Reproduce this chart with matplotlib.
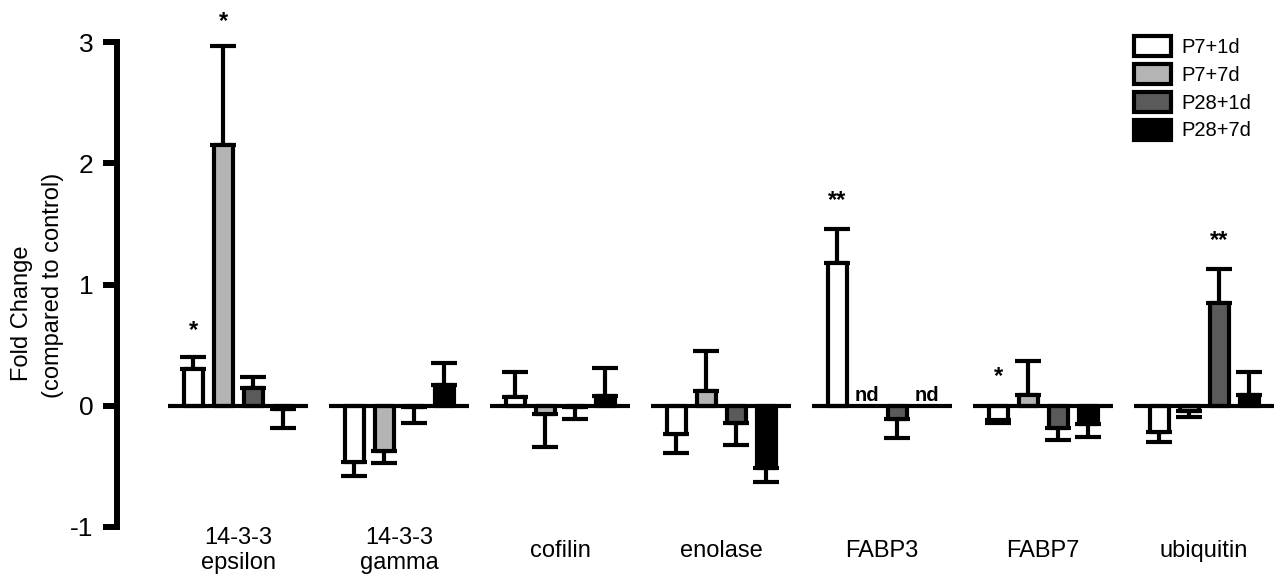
import numpy as np
import matplotlib
matplotlib.use("Agg")
from matplotlib import pyplot as plt
from matplotlib.patches import Patch

plt.rcParams['font.family'] = ['Liberation Sans', 'DejaVu Sans']
plt.rcParams['axes.unicode_minus'] = False

# Data
genes = ['14-3-3\nepsilon', '14-3-3\ngamma', 'cofilin', 'enolase',
         'FABP3', 'FABP7', 'ubiquitin']
conditions = ['P7+1d', 'P7+7d', 'P28+1d', 'P28+7d']
colors = ['white', '#b4b4b4', '#5a5a5a', 'black']

nan = np.nan
p7_1d = [0.30, -0.46, 0.07, -0.23, 1.18, -0.12, -0.22]
p7_1d_sem = [0.10, 0.12, 0.21, 0.16, 0.28, 0.02, 0.08]
p7_7d = [2.15, -0.37, -0.07, 0.12, nan, 0.085, -0.04]
p7_7d_sem = [0.82, 0.10, 0.27, 0.33, nan, 0.285, 0.05]
p28_1d = [0.15, -0.01, -0.01, -0.14, -0.11, -0.185, 0.85]
p28_1d_sem = [0.09, 0.13, 0.10, 0.18, 0.155, 0.095, 0.28]
p28_7d = [-0.03, 0.17, 0.08, -0.515, nan, -0.15, 0.09]
p28_7d_sem = [0.15, 0.18, 0.23, 0.11, nan, 0.11, 0.19]

means = [p7_1d, p7_7d, p28_1d, p28_7d]
sems = [p7_1d_sem, p7_7d_sem, p28_1d_sem, p28_7d_sem]

# (gene index, condition index, marker, y position)
stars = [(0, 0, '*', 0.62), (0, 1, '*', 3.17), (4, 0, '**', 1.69),
         (5, 0, '*', 0.24), (6, 2, '**', 1.36)]
not_detected = [(4, 1), (4, 3)]

pitch = 0.1863
width = 0.118
lw = 3.0

fig = plt.figure(figsize=(12.82, 5.82), dpi=100)
ax = fig.add_axes([117 / 1282, 55 / 582, 1165 / 1282, 485 / 582])

x = np.arange(len(genes))
for k, (m, s) in enumerate(zip(means, sems)):
    m = np.array(m, dtype=float)
    s = np.array(s, dtype=float)
    xpos = x + (k - 1.5) * pitch
    lower = np.where(m < 0, s, 0)
    upper = np.where(m >= 0, s, 0)
    ax.errorbar(xpos, m, yerr=[lower, upper], fmt='none', ecolor='black',
                elinewidth=lw, capsize=9.4, capthick=lw, zorder=2)
    ax.bar(xpos, m, width=width, color=colors[k], edgecolor='black',
           linewidth=lw, zorder=3, joinstyle='round')

# zero line under each group
ax.hlines(np.zeros(len(genes)), x - 0.435, x + 0.435, color='black',
          linewidth=lw, zorder=4)

for g, c, txt, y in stars:
    ax.text(g + (c - 1.5) * pitch, y, txt, ha='center', va='center',
            fontsize=17, fontweight='bold', clip_on=False)
for g, c in not_detected:
    ax.text(g + (c - 1.5) * pitch, 0.04, 'nd', ha='center', va='baseline',
            fontsize=14.5, fontweight='bold')

ax.set_xlim(-0.7516, 6.484)
ax.set_ylim(-1, 3)
ax.set_yticks([-1, 0, 1, 2, 3])
ax.set_xticks(x)
ax.set_xticklabels(genes, fontsize=17, linespacing=1.15)
for lbl in ax.get_xticklabels():
    lbl.set_va('center')
ax.tick_params(axis='x', length=0, pad=17)
ax.tick_params(axis='y', direction='out', length=10, width=4.3, pad=7,
               labelsize=19)
for side in ['top', 'right', 'bottom']:
    ax.spines[side].set_visible(False)
ax.spines['left'].set_linewidth(4.3)
ax.spines['left'].set_bounds(-1, 3)

fig.text(22 / 1282, 1 - 313 / 582, 'Fold Change', rotation=90,
         ha='center', va='center', fontsize=17)
fig.text(53 / 1282, 1 - 285 / 582, '(compared to control)', rotation=90,
         ha='center', va='center', fontsize=17)

handles = [Patch(facecolor=c, edgecolor='black', linewidth=lw) for c in colors]
ax.legend(handles, conditions, loc='upper left',
          bbox_to_anchor=(1134 / 1282, 1 - 36 / 582),
          bbox_transform=fig.transFigure, frameon=False, fontsize=14.5,
          handlelength=1.85, handleheight=1.15, handletextpad=0.5,
          labelspacing=0.35, borderpad=0, borderaxespad=0)

fig.savefig('out.png', dpi=100)
